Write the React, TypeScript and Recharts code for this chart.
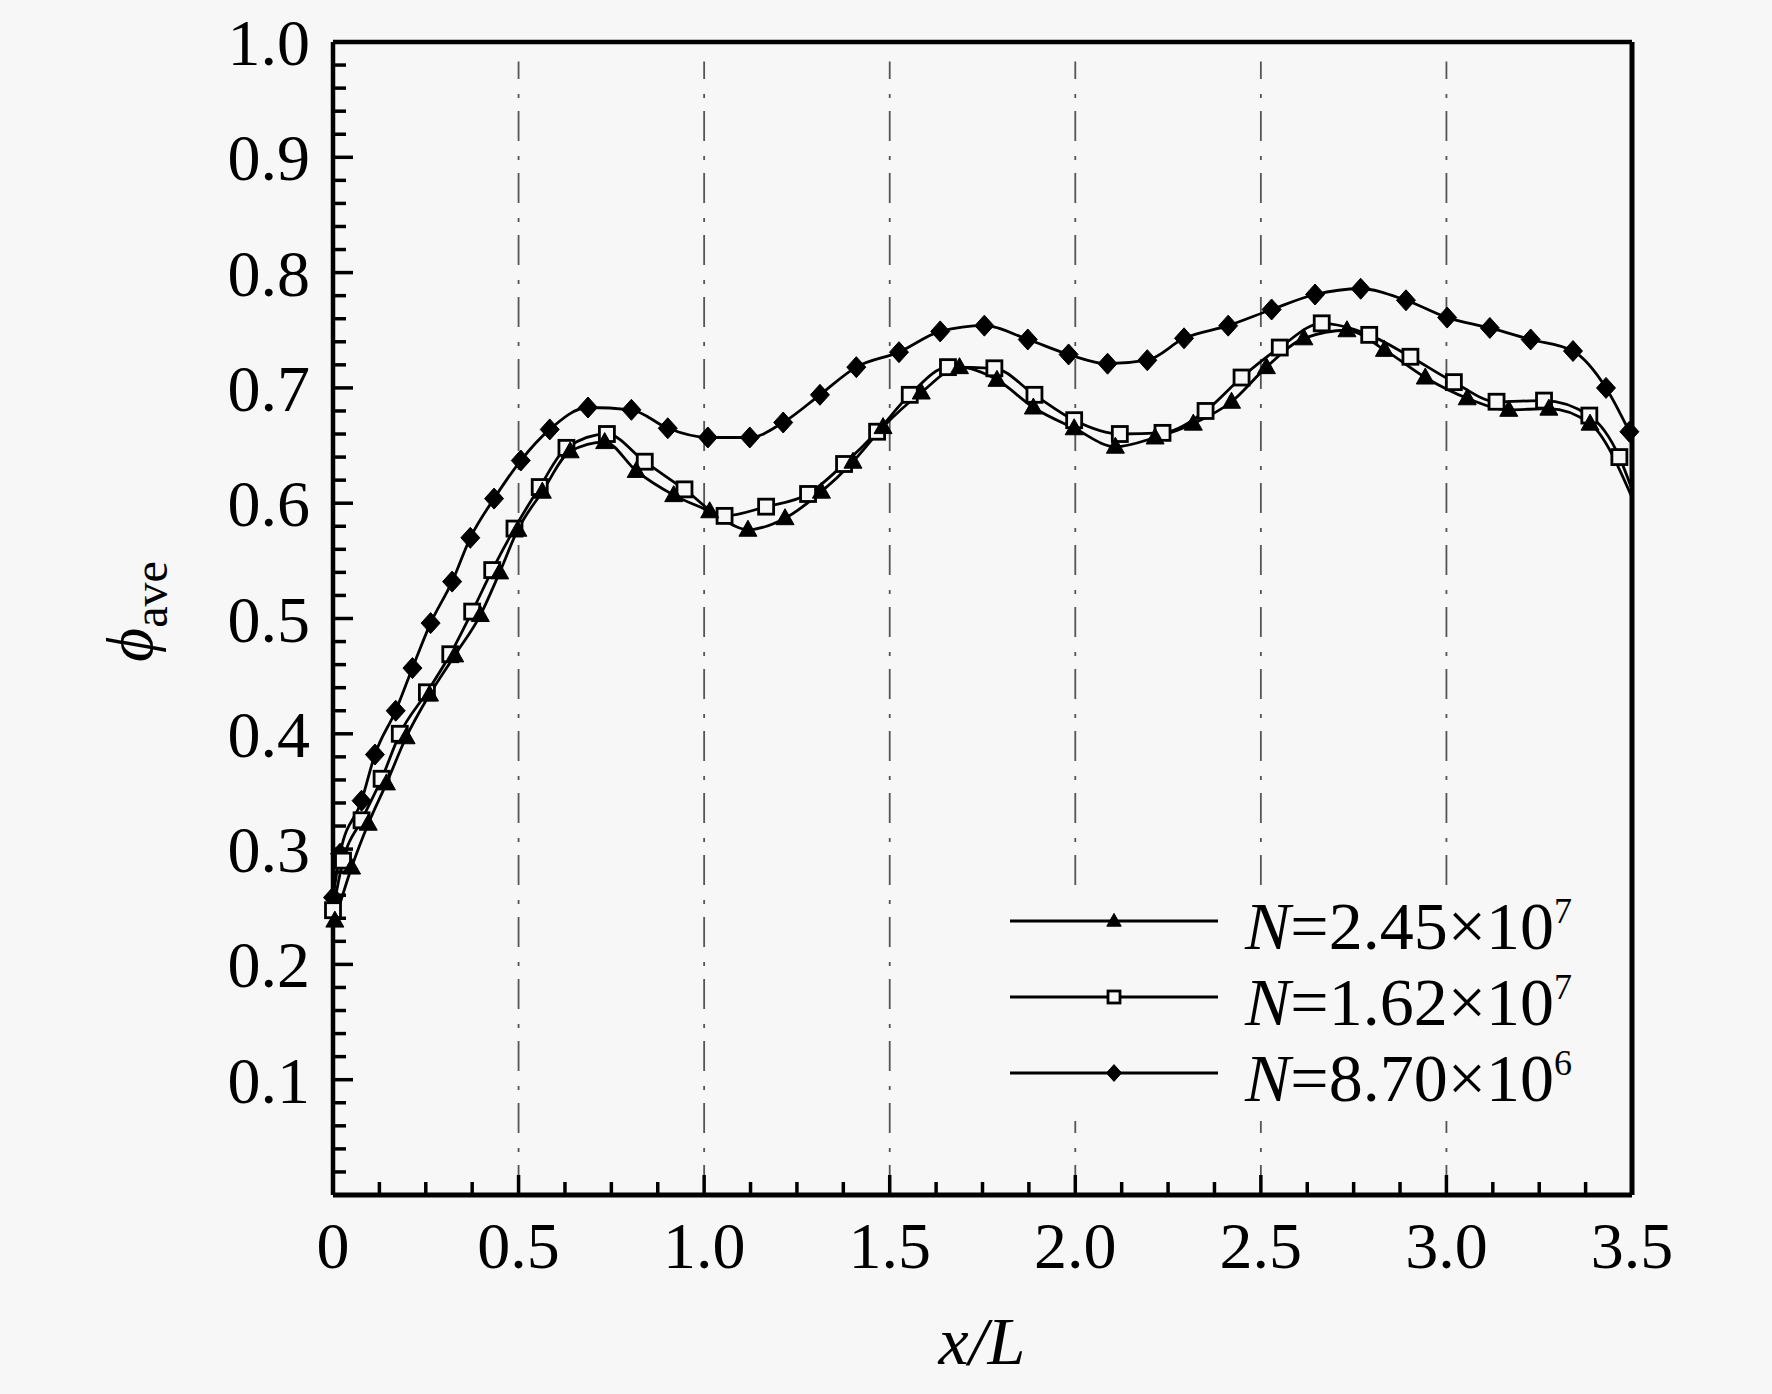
import React from 'react';
import { LineChart, Line, XAxis, YAxis, ReferenceLine } from 'recharts';

const BG = '#f7f7f7';
const FONT = '"Liberation Serif", "Times New Roman", Times, serif';

// x/L positions and phi_ave values
const xA = [0.005, 0.05, 0.095, 0.144, 0.197, 0.26, 0.328, 0.397, 0.449, 0.498, 0.564, 0.639, 0.732, 0.817, 0.918, 1.015, 1.118, 1.218, 1.316, 1.401, 1.482, 1.585, 1.688, 1.789, 1.887, 1.997, 2.108, 2.215, 2.318, 2.421, 2.515, 2.616, 2.732, 2.833, 2.943, 3.056, 3.168, 3.276, 3.387, 3.5];
const yA = [0.238, 0.284, 0.322, 0.357, 0.397, 0.434, 0.468, 0.503, 0.54, 0.577, 0.61, 0.645, 0.653, 0.628, 0.607, 0.593, 0.577, 0.587, 0.61, 0.636, 0.666, 0.696, 0.718, 0.707, 0.683, 0.665, 0.649, 0.657, 0.669, 0.688, 0.718, 0.743, 0.75, 0.733, 0.709, 0.691, 0.681, 0.682, 0.669, 0.605];

const xB = [0, 0.027, 0.077, 0.131, 0.18, 0.253, 0.316, 0.375, 0.429, 0.489, 0.557, 0.629, 0.738, 0.84, 0.947, 1.055, 1.167, 1.28, 1.377, 1.466, 1.554, 1.657, 1.782, 1.89, 1.997, 2.12, 2.235, 2.351, 2.448, 2.551, 2.664, 2.792, 2.903, 3.02, 3.135, 3.263, 3.385, 3.466, 3.5];
const yB = [0.247, 0.29, 0.325, 0.361, 0.4, 0.436, 0.469, 0.506, 0.542, 0.578, 0.614, 0.648, 0.66, 0.636, 0.612, 0.589, 0.597, 0.608, 0.634, 0.662, 0.694, 0.718, 0.717, 0.694, 0.672, 0.66, 0.661, 0.68, 0.709, 0.735, 0.756, 0.746, 0.727, 0.705, 0.688, 0.689, 0.676, 0.64, 0.612];

const xC = [0, 0.019, 0.077, 0.113, 0.169, 0.214, 0.263, 0.321, 0.37, 0.434, 0.506, 0.584, 0.687, 0.804, 0.902, 1.01, 1.123, 1.213, 1.312, 1.41, 1.525, 1.636, 1.755, 1.872, 1.982, 2.087, 2.194, 2.293, 2.412, 2.529, 2.646, 2.769, 2.891, 3.002, 3.117, 3.227, 3.341, 3.43, 3.493];
const yC = [0.258, 0.296, 0.342, 0.382, 0.42, 0.457, 0.496, 0.532, 0.57, 0.604, 0.637, 0.664, 0.683, 0.681, 0.665, 0.657, 0.657, 0.67, 0.694, 0.718, 0.731, 0.749, 0.754, 0.742, 0.729, 0.721, 0.724, 0.743, 0.754, 0.768, 0.781, 0.786, 0.776, 0.761, 0.752, 0.742, 0.732, 0.7, 0.662];

const xTicks = [0, 0.125, 0.25, 0.375, 0.5, 0.625, 0.75, 0.875, 1, 1.125, 1.25, 1.375, 1.5, 1.625, 1.75, 1.875, 2, 2.125, 2.25, 2.375, 2.5, 2.625, 2.75, 2.875, 3, 3.125, 3.25, 3.375, 3.5];
const xMajor = [0, 0.5, 1, 1.5, 2, 2.5, 3, 3.5];
const xLabels = ['0', '0.5', '1.0', '1.5', '2.0', '2.5', '3.0', '3.5'];

const yTicks = [0.02, 0.04, 0.06, 0.08, 0.1, 0.12, 0.14, 0.16, 0.18, 0.2, 0.22, 0.24, 0.26, 0.28, 0.3, 0.32, 0.34, 0.36, 0.38, 0.4, 0.42, 0.44, 0.46, 0.48, 0.5, 0.52, 0.54, 0.56, 0.58, 0.6, 0.62, 0.64, 0.66, 0.68, 0.7, 0.72, 0.74, 0.76, 0.78, 0.8, 0.82, 0.84, 0.86, 0.88, 0.9, 0.92, 0.94, 0.96, 0.98, 1.0];
const yMajor = [0.1, 0.2, 0.3, 0.4, 0.5, 0.6, 0.7, 0.8, 0.9, 1.0];
const yLabels = ['0.1', '0.2', '0.3', '0.4', '0.5', '0.6', '0.7', '0.8', '0.9', '1.0'];

const gridX = [0.5, 1, 1.5, 2, 2.5, 3];

const legendMant = ['2.45', '1.62', '8.70'];
const legendExp = ['7', '7', '6'];
const legendShape = ['triangle', 'square', 'diamond'];

const toRows = (xs: number[], ys: number[]) => xs.map((x, i) => ({ x, y: ys[i] }));
const dataA = toRows(xA, yA);
const dataB = toRows(xB, yB);
const dataC = toRows(xC, yC);

const findIdx = (arr: number[], v: number) => arr.findIndex((a) => Math.abs(a - v) < 1e-6);

const XTick = (props: any) => {
  const { x, y, payload } = props;
  const i = findIdx(xMajor, payload.value);
  const major = i >= 0;
  return (
    <g>
      <line x1={x} x2={x} y1={y} y2={y - (major ? 20 : 13)} stroke="#000" strokeWidth={3.5} />
      {major && (
        <text x={x} y={y + 73} textAnchor="middle" fontFamily={FONT} fontSize={66} fill="#000">
          {xLabels[i]}
        </text>
      )}
    </g>
  );
};

const YTick = (props: any) => {
  const { x, y, payload } = props;
  const i = findIdx(yMajor, payload.value);
  const major = i >= 0;
  return (
    <g>
      <line x1={x} x2={x + (major ? 20 : 13)} y1={y} y2={y} stroke="#000" strokeWidth={3.5} />
      {major && (
        <text x={x - 23} y={y + 23} textAnchor="end" fontFamily={FONT} fontSize={66} fill="#000">
          {yLabels[i]}
        </text>
      )}
    </g>
  );
};

const Marker = ({ shape, cx, cy, s = 1 }: { shape: string; cx: number; cy: number; s?: number }) => {
  if (shape === 'diamond') {
    return (
      <polygon
        points={`${cx},${cy - 10.5 * s} ${cx + 9.5 * s},${cy} ${cx},${cy + 10.5 * s} ${cx - 9.5 * s},${cy}`}
        fill="#000"
        stroke="#000"
        strokeWidth={1}
      />
    );
  }
  if (shape === 'square') {
    return (
      <rect x={cx - 7.5 * s} y={cy - 7.5 * s} width={15 * s} height={15 * s} fill={BG} stroke="#000" strokeWidth={2.8} />
    );
  }
  return (
    <polygon
      points={`${cx},${cy - 9.5 * s} ${cx + 9 * s},${cy + 6.5 * s} ${cx - 9 * s},${cy + 6.5 * s}`}
      fill="#000"
      stroke="#000"
      strokeWidth={1}
    />
  );
};

const makeDot = (shape: string, n: number, skipLast: boolean) => (p: any) => {
  const { cx, cy, index } = p;
  if ((skipLast && index === n - 1) || cx == null || cy == null) return <g key={`e-${shape}-${index}`} />;
  return (
    <g key={`m-${shape}-${index}`}>
      <Marker shape={shape} cx={cx} cy={cy} />
    </g>
  );
};

const XLabel = () => (
  <text x={982} y={1364} textAnchor="middle" fontFamily={FONT} fontSize={68} fontStyle="italic" fill="#000">
    x/L
  </text>
);

const YLabel = () => (
  <text transform="translate(152,662) rotate(-90)" fontFamily={FONT} fontSize={66} fill="#000">
    <tspan fontStyle="italic">ϕ</tspan>
    <tspan fontSize={48} dy={15}>ave</tspan>
  </text>
);

const Legend = () => (
  <div
    style={{
      position: 'absolute',
      left: 1000,
      top: 887,
      width: 600,
      height: 234,
      background: BG,
      zIndex: 2,
    }}
  >
    <svg width={600} height={234} style={{ overflow: 'visible' }}>
      {legendShape.map((sh, i) => {
        const cy = 34 + i * 76;
        return (
          <g key={sh}>
            <line x1={10} x2={218} y1={cy} y2={cy} stroke="#000" strokeWidth={3} />
            <Marker shape={sh} cx={114} cy={cy} s={0.8} />
            <text x={245} y={cy + 28} fontFamily={FONT} fontSize={68} fill="#000">
              <tspan fontStyle="italic">N</tspan>
              <tspan>{`=${legendMant[i]}×10`}</tspan>
              <tspan fontSize={36} dy={-26}>{legendExp[i]}</tspan>
            </text>
          </g>
        );
      })}
    </svg>
  </div>
);

export default function App() {
  return (
    <div style={{ position: 'absolute', left: 0, top: 0, width: 1772, height: 1394, background: BG }}>
      <LineChart width={1772} height={1394} margin={{ top: 42, right: 140, bottom: 0, left: 0 }}>
        <XAxis
          type="number"
          dataKey="x"
          domain={[0, 3.5]}
          ticks={xTicks}
          interval={0}
          tickSize={0}
          tickMargin={0}
          tickLine={false}
          height={199}
          axisLine={{ stroke: '#000', strokeWidth: 5 }}
          tick={(p: any) => <XTick {...p} />}
          allowDecimals
          label={{ content: () => <XLabel /> }}
        />
        <YAxis
          type="number"
          dataKey="y"
          domain={[0, 1]}
          ticks={yTicks}
          interval={0}
          tickSize={0}
          tickMargin={0}
          tickLine={false}
          width={333}
          axisLine={{ stroke: '#000', strokeWidth: 4.5 }}
          tick={(p: any) => <YTick {...p} />}
          label={{ content: () => <YLabel /> }}
        />
        {gridX.map((g) => (
          <ReferenceLine
            key={`g${g}`}
            segment={[
              { x: g, y: 0 },
              { x: g, y: 0.983 },
            ]}
            stroke="#555"
            strokeWidth={1.8}
            strokeDasharray="30 13 4 15"
          />
        ))}
        <ReferenceLine y={1} stroke="#000" strokeWidth={4.5} />
        <ReferenceLine x={3.5} stroke="#000" strokeWidth={5} />
        <Line
          data={dataC}
          dataKey="y"
          type="monotone"
          stroke="#000"
          strokeWidth={2.8}
          isAnimationActive={false}
          dot={makeDot('diamond', dataC.length, false)}
          activeDot={false}
        />
        <Line
          data={dataB}
          dataKey="y"
          type="monotone"
          stroke="#000"
          strokeWidth={2.8}
          isAnimationActive={false}
          dot={makeDot('square', dataB.length, true)}
          activeDot={false}
        />
        <Line
          data={dataA}
          dataKey="y"
          type="monotone"
          stroke="#000"
          strokeWidth={2.8}
          isAnimationActive={false}
          dot={makeDot('triangle', dataA.length, true)}
          activeDot={false}
        />
      </LineChart>
      <Legend />
    </div>
  );
}
